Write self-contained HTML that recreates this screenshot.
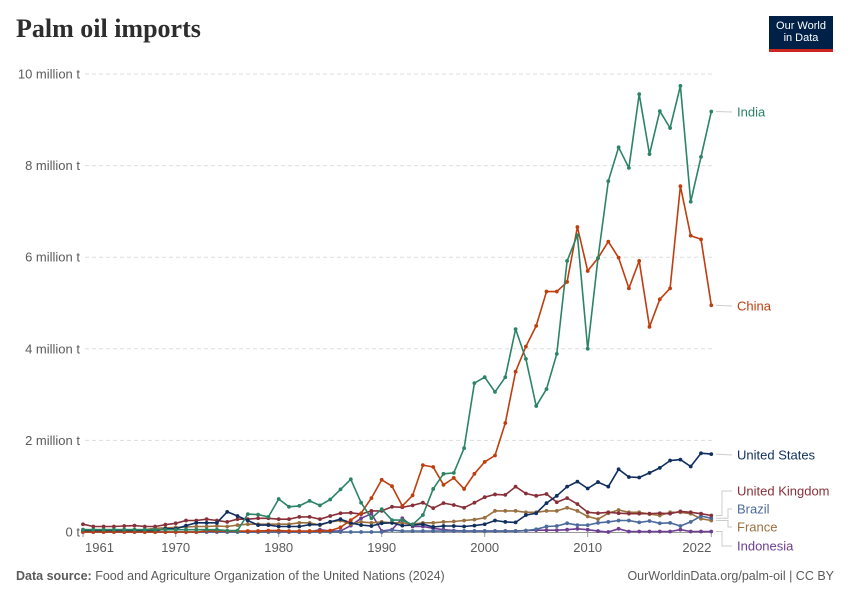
<!DOCTYPE html>
<html><head><meta charset="utf-8">
<style>
body{margin:0;background:#fff;font-family:"Liberation Sans",sans-serif;}
#wrap{position:relative;width:850px;height:600px;overflow:hidden;background:#fff}
.title{position:absolute;left:16px;top:14px;font-family:"Liberation Serif",serif;font-weight:bold;font-size:26px;color:#2d2d2d}
.logo{position:absolute;left:769px;top:16px;width:64px;height:36px;background:#002147;color:#fff;font-size:11px;line-height:12px;text-align:center;padding-top:4px;box-sizing:border-box;border-bottom:3px solid #ce261e}
.foot{position:absolute;top:569px;font-size:12.5px;color:#5b5b5b}
</style></head><body>
<div id="wrap">
<div class="title">Palm oil imports</div>
<div class="logo">Our World<br>in Data</div>
<svg id="chart" width="850" height="600" style="position:absolute;left:0;top:0"></svg>
<div class="foot" style="left:16px"><b>Data source:</b> Food and Agriculture Organization of the United Nations (2024)</div>
<div class="foot" style="right:16px">OurWorldinData.org/palm-oil | CC BY</div>
</div>
<script>
const years = [];for(let y=1961;y<=2022;y++)years.push(y);
const yTicks=[0,2,4,6,8,10];
const yTickLabels=["0 t","2 million t","4 million t","6 million t","8 million t","10 million t"];
const xTicks=[1961,1970,1980,1990,2000,2010,2022];
const india=[0.05,0.05,0.05,0.05,0.05,0.05,0.05,0.05,0.05,0.05,0.05,0.05,0.05,0.05,0.03,0.03,0.39,0.38,0.33,0.72,0.55,0.57,0.68,0.58,0.71,0.93,1.15,0.64,0.3,0.5,0.26,0.26,0.16,0.37,0.94,1.27,1.29,1.83,3.25,3.38,3.06,3.38,4.43,3.78,2.75,3.12,3.89,5.92,6.48,4.0,5.98,7.66,8.4,7.95,9.56,8.25,9.19,8.82,9.74,7.21,8.19,9.18];
const china=[0,0,0,0,0,0,0,0,0,0,0,0,0.02,0.02,0.02,0.02,0.02,0.02,0.03,0.03,0.02,0.02,0.02,0.02,0.03,0.1,0.26,0.41,0.74,1.14,1.0,0.57,0.8,1.46,1.42,1.03,1.18,0.94,1.27,1.53,1.67,2.38,3.5,4.05,4.5,5.25,5.25,5.46,6.66,5.7,5.98,6.34,5.99,5.32,5.92,4.48,5.08,5.32,7.55,6.47,6.39,4.95];
const us=[0.02,0.02,0.02,0.02,0.02,0.02,0.02,0.02,0.07,0.07,0.14,0.2,0.2,0.2,0.44,0.35,0.25,0.15,0.15,0.12,0.12,0.12,0.16,0.16,0.22,0.28,0.2,0.15,0.13,0.19,0.2,0.14,0.15,0.17,0.11,0.13,0.13,0.12,0.14,0.17,0.25,0.22,0.21,0.37,0.41,0.63,0.79,0.99,1.1,0.95,1.09,0.99,1.37,1.2,1.19,1.29,1.4,1.56,1.58,1.43,1.72,1.7];
const uk=[0.17,0.12,0.12,0.12,0.13,0.14,0.12,0.12,0.16,0.19,0.25,0.25,0.28,0.25,0.22,0.28,0.28,0.3,0.3,0.28,0.28,0.33,0.33,0.28,0.35,0.41,0.42,0.39,0.46,0.46,0.55,0.54,0.58,0.64,0.52,0.63,0.59,0.53,0.64,0.76,0.82,0.81,0.99,0.84,0.79,0.83,0.65,0.74,0.61,0.43,0.41,0.43,0.41,0.4,0.4,0.4,0.41,0.4,0.45,0.43,0.4,0.36];
const brazil=[0,0,0,0,0,0,0,0,0,0,0,0,0,0,0,0,0,0,0,0,0,0,0,0,0,0,0,0,0,0,0.04,0.02,0.02,0.02,0.02,0.02,0.02,0.02,0.02,0.02,0.02,0.02,0.02,0.03,0.06,0.12,0.13,0.19,0.15,0.15,0.2,0.22,0.25,0.25,0.21,0.24,0.19,0.2,0.13,0.22,0.35,0.3];
const france=[0.05,0.05,0.05,0.05,0.05,0.05,0.05,0.08,0.09,0.1,0.11,0.12,0.12,0.13,0.12,0.15,0.17,0.17,0.17,0.17,0.17,0.2,0.2,0.15,0.22,0.25,0.17,0.22,0.2,0.22,0.2,0.2,0.17,0.2,0.2,0.22,0.23,0.25,0.27,0.31,0.46,0.46,0.46,0.43,0.43,0.46,0.46,0.53,0.46,0.34,0.28,0.41,0.48,0.43,0.43,0.39,0.36,0.43,0.43,0.4,0.29,0.25];
const indonesia=[0,0,0,0,0,0,0,0,0,0,0,0,0,0,0,0,0,0,0,0,0,0,0,0.05,0.02,0.02,0.14,0.3,0.4,0.02,0.05,0.3,0.12,0.12,0.08,0.05,0.03,0.02,0.02,0.02,0.02,0.02,0.02,0.03,0.04,0.04,0.04,0.05,0.07,0.05,0.02,0.0,0.07,0.01,0.01,0.01,0.01,0.01,0.05,0.01,0.01,0.01];
const seriesNames=["India","China","United States","United Kingdom","Brazil","France","Indonesia"];
const seriesData=[india,china,us,uk,brazil,france,indonesia];
const colors=["#2c8465","#be3e0f","#102f5e","#883039","#4c6a9c","#9a7041","#6d3e91"];
const labelY=[112,306,455,491,509,527,546];
const X=y=>83+(y-1961)*10.3;
const Y=v=>532-v*45.8;
const svg=document.getElementById('chart');
const NS='http://www.w3.org/2000/svg';
function mk(t,a){const e=document.createElementNS(NS,t);for(const k in a)e.setAttribute(k,a[k]);svg.appendChild(e);return e;}
yTicks.forEach((t,i)=>{
  if(t>0){const g=mk('line',{x1:85,x2:712,y1:Y(t),y2:Y(t),stroke:'#ddd','stroke-dasharray':'4,3'});
  
  }
  const tx=mk('text',{x:80,y:Y(t)+4.5,'text-anchor':'end','font-size':13,fill:'#5b5b5b','font-family':'Liberation Sans, sans-serif'});
  tx.textContent=yTickLabels[i];
  
  
});
const base=mk('line',{x1:83,x2:712,y1:532.5,y2:532.5,stroke:'#999'});


xTicks.forEach((t,i)=>{
  let anchor='middle',x=X(t);
  if(i===0){anchor='start';x=X(t)+2;}
  if(i===xTicks.length-1){anchor='end';x=X(t);}
  const tk=mk('line',{x1:X(t),x2:X(t),y1:532,y2:537,stroke:'#999'});
  
  
  const tx=mk('text',{x:x,y:552,'text-anchor':anchor,'font-size':13,fill:'#5b5b5b','font-family':'Liberation Sans, sans-serif'});
  tx.textContent=t;
  
  
});
for(let s=seriesData.length-1;s>=0;s--){
  const d=seriesData[s];
  const pts=d.map((v,i)=>X(years[i]).toFixed(1)+','+Y(v).toFixed(1)).join(' ');
  const pl=mk('polyline',{points:pts,fill:'none',stroke:colors[s],'stroke-width':1.6,'stroke-linejoin':'round'});
  
  
  d.forEach((v,i)=>{
    const c=mk('circle',{cx:X(years[i]),cy:Y(v),r:1.9,fill:colors[s]});
    
    
  });
}
seriesNames.forEach((n,s)=>{
  const last=seriesData[s][seriesData[s].length-1];
  const ly=labelY[s];
  let path;
  if(s<3) path=`M716,${Y(last)} L732,${ly}`;
  else {const mx=s===3||s===6?722:728; path=`M716,${Y(last)} H${mx} V${ly} H732`;}
  const c=mk('path',{d:path,fill:'none',stroke:'#ccc','stroke-width':1});
  
  
  const t=mk('text',{x:737,y:ly+4.5,'font-size':13,fill:colors[s],'font-family':'Liberation Sans, sans-serif'});
  t.textContent=n;
  
  
});
</script>
</body></html>
